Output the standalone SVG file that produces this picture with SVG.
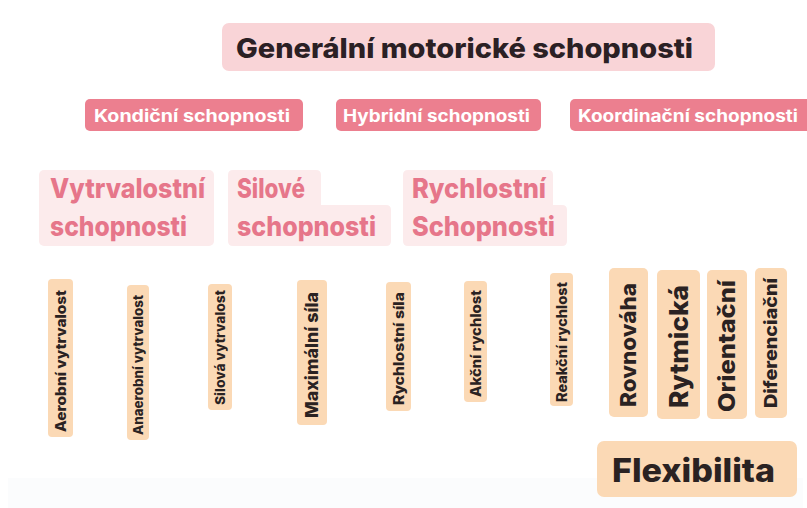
<svg xmlns="http://www.w3.org/2000/svg" width="807" height="508" viewBox="0 0 807 508">
<style>
text{font-family:Inter,"Liberation Sans","DejaVu Sans",sans-serif;font-weight:800}
.title{fill:#2b2024;font-size:27px}
.cat{fill:#ec7f8f}
.catt{fill:#fff;font-size:17px;font-weight:700}
.sub{fill:#fcebec}
.subt{fill:#e6768a;font-size:27px}
.leaf{fill:#fbd9b5}
.leaft{fill:#2a2222}
</style>
<rect x="0" y="0" width="807" height="508" fill="#fff"/>
<rect x="8" y="478" width="795" height="30" fill="#fbfcfd"/>
<g id="connectors"></g>
<g id="general">
<rect x="222" y="23" width="493" height="48" rx="7" fill="#f9d4d7"/>
<text class="title" x="236" y="58" textLength="457" lengthAdjust="spacingAndGlyphs">Generální motorické schopnosti</text>
</g>
<g id="kondicni">
<rect class="cat" x="85" y="99" width="218" height="32" rx="5"/>
<text class="catt" x="94" y="122" textLength="196" lengthAdjust="spacingAndGlyphs">Kondiční schopnosti</text>
</g>
<g id="hybridni">
<rect class="cat" x="336" y="99" width="205" height="32" rx="5"/>
<text class="catt" x="343" y="122" textLength="187" lengthAdjust="spacingAndGlyphs">Hybridní schopnosti</text>
</g>
<g id="koordinacni">
<rect class="cat" x="570" y="99" width="245" height="32" rx="5"/>
<text class="catt" x="578" y="122" textLength="220" lengthAdjust="spacingAndGlyphs">Koordinační schopnosti</text>
</g>
<g id="vytrvalostni">
<rect class="sub" x="39" y="170" width="175" height="76" rx="5"/>
<text class="subt" x="50" y="198" textLength="155" lengthAdjust="spacingAndGlyphs">Vytrvalostní</text>
<text class="subt" x="50" y="236" textLength="137" lengthAdjust="spacingAndGlyphs">schopnosti</text>
</g>
<g id="silove">
<path class="sub" d="M233 170 H316 Q321 170 321 175 V205 H386 Q391 205 391 210 V241 Q391 246 386 246 H233 Q228 246 228 241 V175 Q228 170 233 170 Z"/>
<text class="subt" x="237" y="198" textLength="68" lengthAdjust="spacingAndGlyphs">Silové</text>
<text class="subt" x="237" y="236" textLength="139" lengthAdjust="spacingAndGlyphs">schopnosti</text>
</g>
<g id="rychlostni">
<path class="sub" d="M408 170 H548 Q553 170 553 175 V205 H562 Q567 205 567 210 V241 Q567 246 562 246 H408 Q403 246 403 241 V175 Q403 170 408 170 Z"/>
<text class="subt" x="412" y="198" textLength="134" lengthAdjust="spacingAndGlyphs">Rychlostní</text>
<text class="subt" x="412" y="236" textLength="143" lengthAdjust="spacingAndGlyphs">Schopnosti</text>
</g>
<g id="aerobni">
<rect class="leaf" x="48" y="279" width="25" height="158" rx="4"/>
<text class="leaft" font-size="14" text-anchor="middle" dy="0.36em" transform="translate(60.5 361) rotate(-90)" textLength="142" lengthAdjust="spacingAndGlyphs">Aerobní vytrvalost</text>
</g>
<g id="anaerobni">
<rect class="leaf" x="127" y="285" width="22" height="155" rx="4"/>
<text class="leaft" font-size="13" text-anchor="middle" dy="0.36em" transform="translate(138 365) rotate(-90)" textLength="140" lengthAdjust="spacingAndGlyphs">Anaerobní vytrvalost</text>
</g>
<g id="silova-vytrvalost">
<rect class="leaf" x="208" y="284" width="24" height="126" rx="4"/>
<text class="leaft" font-size="13" text-anchor="middle" dy="0.36em" transform="translate(220 347.5) rotate(-90)" textLength="115" lengthAdjust="spacingAndGlyphs">Silová vytrvalost</text>
</g>
<g id="maximalni-sila">
<rect class="leaf" x="297" y="280" width="30" height="145" rx="4"/>
<text class="leaft" font-size="18" text-anchor="middle" dy="0.36em" transform="translate(312 355) rotate(-90)" textLength="126" lengthAdjust="spacingAndGlyphs">Maximální síla</text>
</g>
<g id="rychlostni-sila">
<rect class="leaf" x="386" y="282" width="25" height="129" rx="4"/>
<text class="leaft" font-size="14" text-anchor="middle" dy="0.36em" transform="translate(398.5 348.5) rotate(-90)" textLength="113" lengthAdjust="spacingAndGlyphs">Rychlostní síla</text>
</g>
<g id="akcni-rychlost">
<rect class="leaf" x="464" y="281" width="23" height="121" rx="4"/>
<text class="leaft" font-size="14" text-anchor="middle" dy="0.36em" transform="translate(475.5 343.5) rotate(-90)" textLength="107" lengthAdjust="spacingAndGlyphs">Akční rychlost</text>
</g>
<g id="reakcni-rychlost">
<rect class="leaf" x="550" y="273" width="23" height="133" rx="4"/>
<text class="leaft" font-size="14" text-anchor="middle" dy="0.36em" transform="translate(561.5 342) rotate(-90)" textLength="120" lengthAdjust="spacingAndGlyphs">Reakční rychlost</text>
</g>
<g id="rovnovaha">
<rect class="leaf" x="609" y="268" width="39" height="149" rx="5"/>
<text class="leaft" font-size="22" text-anchor="middle" dy="0.36em" transform="translate(628.5 345) rotate(-90)" textLength="124" lengthAdjust="spacingAndGlyphs">Rovnováha</text>
</g>
<g id="rytmicka">
<rect class="leaf" x="657" y="270" width="43" height="149" rx="5"/>
<text class="leaft" font-size="26" text-anchor="middle" dy="0.36em" transform="translate(678.5 346.5) rotate(-90)" textLength="123" lengthAdjust="spacingAndGlyphs">Rytmická</text>
</g>
<g id="orientacni">
<rect class="leaf" x="707" y="270" width="40" height="149" rx="5"/>
<text class="leaft" font-size="23" text-anchor="middle" dy="0.36em" transform="translate(727 346) rotate(-90)" textLength="132" lengthAdjust="spacingAndGlyphs">Orientační</text>
</g>
<g id="diferenciacni">
<rect class="leaf" x="755" y="268" width="32" height="150" rx="5"/>
<text class="leaft" font-size="18" text-anchor="middle" dy="0.36em" transform="translate(771 343) rotate(-90)" textLength="130" lengthAdjust="spacingAndGlyphs">Diferenciační</text>
</g>
<g id="flexibilita">
<rect class="leaf" x="597" y="441" width="200" height="56" rx="7"/>
<text class="leaft" font-size="32" x="612" y="482" textLength="163" lengthAdjust="spacingAndGlyphs">Flexibilita</text>
</g>
</svg>
